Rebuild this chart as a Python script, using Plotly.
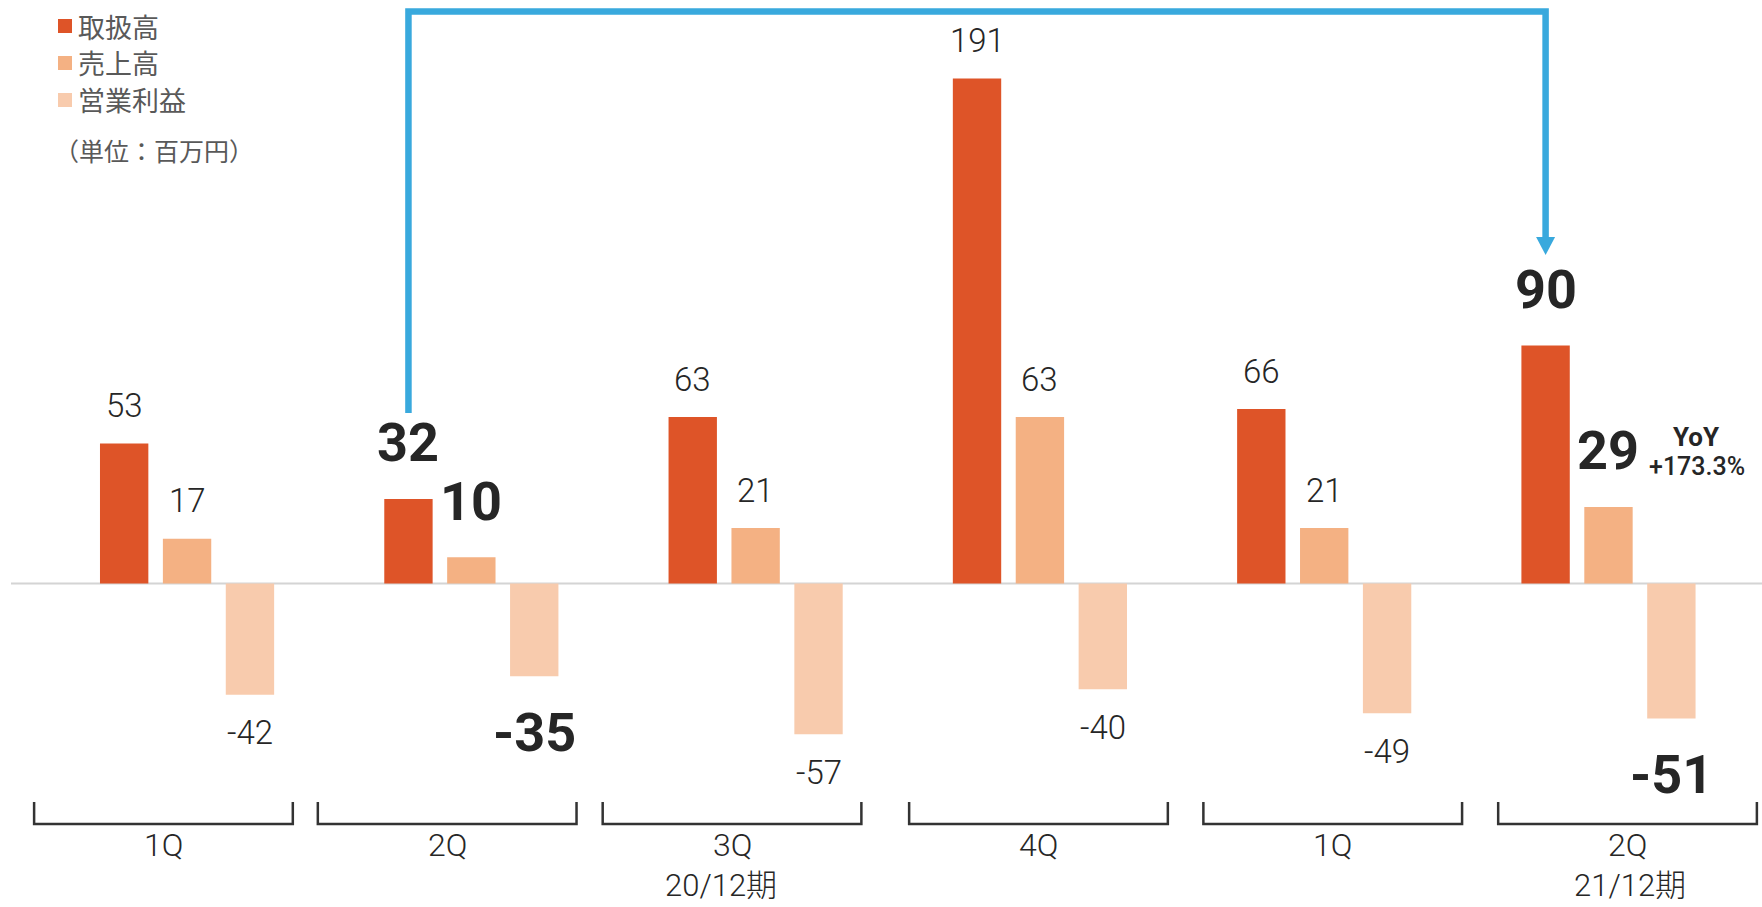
import plotly.graph_objects as go

# ---------------- data ----------------
quarters = ["1Q", "2Q", "3Q", "4Q", "1Q", "2Q"]
periods = ["20/12期", "21/12期"]
series_names = ["取扱高", "売上高", "営業利益"]
handling = [53, 32, 63, 191, 66, 90]
sales = [17, 10, 21, 63, 21, 29]
op_profit = [-42, -35, -57, -40, -49, -51]
highlight = [False, True, False, False, False, True]
yoy_lines = ["YoY", "+173.3%"]
unit_note = "（単位：百万円）"

# ---------------- style / layout constants ----------------
W, H = 1762, 907
colors = ["#DE5428", "#F4B183", "#F8CBAD"]
text_dark = "#262626"
text_grey = "#595959"
arrow_color = "#39A9DD"
num_font = "Roboto, Noto Sans CJK JP, sans-serif"
cjk_font = "Noto Sans CJK JP, sans-serif"

bargap = 0.3363
bargroupgap = 0.231
pitch = (1 - bargap) / 3

x_range = [-0.658, 5.540]
y_range = [-122.3, 220.7]

bracket_centers = [-0.083, 0.915, 1.917, 2.995, 4.03, 5.067]
bracket_half = 0.455
period_bracket_index = [2, 5]

legend_rows_px = [26, 63, 100]
legend_sq = (58, 72)


def py(pixel_y):
    """pixel from top -> paper fraction"""
    return 1 - pixel_y / H


def px(pixel_x):
    return pixel_x / W


xs = list(range(len(quarters)))
all_series = [handling, sales, op_profit]

fig = go.Figure()
for name, vals, col in zip(series_names, all_series, colors):
    fig.add_trace(go.Bar(
        x=xs, y=vals, name=name, marker=dict(color=col, line=dict(width=0)),
        hoverinfo="skip", showlegend=False,
    ))

annotations = []
shapes = []

# value labels
for j, vals in enumerate(all_series):
    for i, v in enumerate(vals):
        hl = highlight[i]
        shift = (56 if hl else 38) * (1 if v >= 0 else -1)
        annotations.append(dict(
            x=i + (j - 1) * pitch, y=v, xref="x", yref="y",
            text=(f"<b>{v}</b>" if hl else f"{v}"), showarrow=False,
            yanchor="middle", xanchor="center", yshift=shift,
            font=dict(family=num_font, size=54 if hl else 33,
                      color=text_dark, weight=700 if hl else 300),
        ))

# YoY note beside the last sales bar
last = len(quarters) - 1
annotations.append(dict(
    x=last + 0.31, y=sales[last], xref="x", yref="y", yshift=70,
    text=f"<b>{yoy_lines[0]}</b>", showarrow=False, yanchor="middle",
    font=dict(family=num_font, size=26, color=text_dark),
))
annotations.append(dict(
    x=last + 0.31, y=sales[last], xref="x", yref="y", yshift=40,
    text=yoy_lines[1], showarrow=False, yanchor="middle",
    font=dict(family=num_font, size=25, color=text_dark, weight=500),
))

# quarter labels and period labels
for c, q in zip(bracket_centers, quarters):
    annotations.append(dict(
        x=c, y=py(845), xref="x", yref="paper", text=q, showarrow=False,
        yanchor="middle", font=dict(family=num_font, size=32, color=text_dark, weight=300),
    ))
for idx, p in zip(period_bracket_index, periods):
    annotations.append(dict(
        x=bracket_centers[idx] - (0.04 if idx == 2 else -0.01), y=py(885),
        xref="x", yref="paper", text=p, showarrow=False, yanchor="middle",
        font=dict(family=num_font, size=31, color=text_dark, weight=300),
    ))

# legend (drawn as swatches + labels)
for name, col, ry in zip(series_names, colors, legend_rows_px):
    shapes.append(dict(type="rect", xref="paper", yref="paper",
                       x0=px(legend_sq[0]), x1=px(legend_sq[1]),
                       y0=py(ry - 7), y1=py(ry + 7),
                       fillcolor=col, line=dict(width=0)))
    annotations.append(dict(
        x=px(76), y=py(ry), xref="paper", yref="paper", text=name,
        showarrow=False, xanchor="left", yanchor="middle",
        font=dict(family=cjk_font, size=27, color=text_grey),
    ))

# unit note
annotations.append(dict(
    x=px(52), y=py(150), xref="paper", yref="paper", text=unit_note,
    showarrow=False, xanchor="left", yanchor="middle",
    font=dict(family=cjk_font, size=25, color=text_grey),
))

# zero line
shapes.append(dict(type="line", xref="paper", yref="y", x0=px(11), x1=1,
                   y0=0, y1=0, line=dict(color="#D4D4D4", width=2), layer="below"))
# brackets
yt, yb = py(802), py(824)
for c in bracket_centers:
    l, r = c - bracket_half, c + bracket_half
    shapes.append(dict(type="path", xref="x", yref="paper",
                       path=f"M{l},{yt} L{l},{yb} L{r},{yb} L{r},{yt}",
                       line=dict(color="#333333", width=2.5)))
# comparison arrow (from 2Q 20/12 handling to 2Q 21/12 handling)
ax1 = 1 - pitch
ax2 = last - pitch
shapes.append(dict(type="path", xref="x", yref="paper",
                   path=f"M{ax1},{py(413)} L{ax1},{py(11.5)} L{ax2},{py(11.5)} L{ax2},{py(238)}",
                   line=dict(color=arrow_color, width=6.5)))
dx = 9.5 / (W / (x_range[1] - x_range[0]))
shapes.append(dict(type="path", xref="x", yref="paper",
                   path=f"M{ax2 - dx},{py(237)} L{ax2 + dx},{py(237)} L{ax2},{py(255)} Z",
                   fillcolor=arrow_color, line=dict(color=arrow_color, width=0)))

fig.update_layout(
    width=W, height=H,
    margin=dict(l=0, r=0, t=0, b=0),
    paper_bgcolor="white", plot_bgcolor="white",
    barmode="group", bargap=bargap, bargroupgap=bargroupgap,
    xaxis=dict(range=x_range, visible=False, fixedrange=True),
    yaxis=dict(range=y_range, visible=False, fixedrange=True),
    showlegend=False,
    annotations=annotations,
    shapes=shapes,
    font=dict(family=num_font),
)

fig.write_html(
    "out.html",
    config={"displayModeBar": False},
    post_script="document.body.style.margin='0';document.body.style.overflow='hidden';",
)
